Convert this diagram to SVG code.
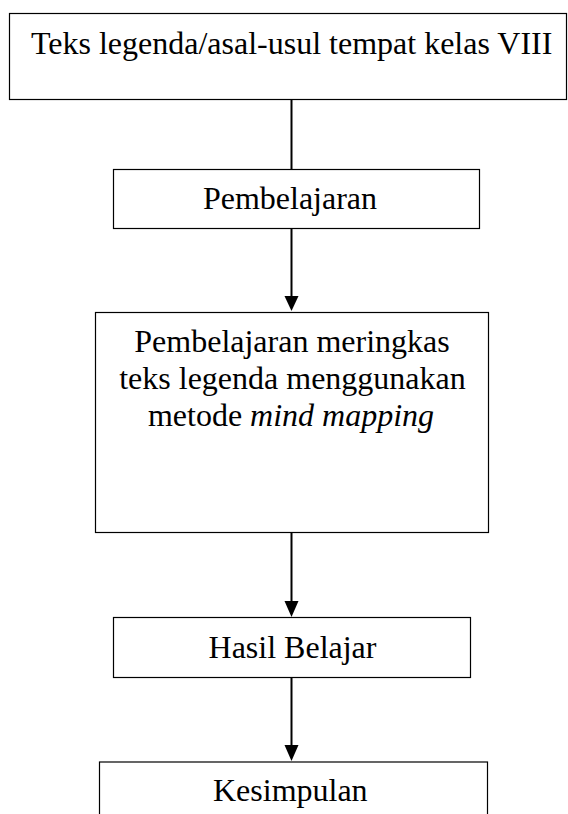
<svg xmlns="http://www.w3.org/2000/svg" width="568" height="814" viewBox="0 0 568 814">
<defs>
<style>
.box{fill:#fff;stroke:#000;stroke-width:1.2}
.t{font-family:"Liberation Serif","Times New Roman",serif;font-size:32px;fill:#000;text-anchor:middle}
.c{stroke:#000;stroke-width:2;fill:none}
.ah{fill:#000}
</style>
</defs>
<rect width="568" height="814" fill="#fff"/>
<g id="n1"><rect class="box" x="9.5" y="13.5" width="557" height="86"/><text class="t" x="291.7" y="53.5">Teks legenda/asal-usul tempat kelas VIII</text></g>
<g id="n2"><rect class="box" x="113.5" y="169.5" width="366" height="59"/><text class="t" x="290" y="209">Pembelajaran</text></g>
<g id="n3"><rect class="box" x="95.5" y="312.5" width="393" height="220"/>
<text class="t" x="292" y="352">Pembelajaran meringkas</text>
<text class="t" x="292.5" y="389">teks legenda menggunakan</text>
<text class="t" x="291" y="426">metode <tspan font-style="italic">mind mapping</tspan></text></g>
<g id="n4"><rect class="box" x="113.5" y="617.5" width="357" height="60"/><text class="t" x="292.5" y="658">Hasil Belajar</text></g>
<g id="n5"><rect class="box" x="99.5" y="762" width="388" height="70"/><text class="t" x="290.3" y="800.5">Kesimpulan</text></g>
<g id="connectors">
<line class="c" x1="291.5" y1="100" x2="291.5" y2="169"/>
<line class="c" x1="291.5" y1="229" x2="291.5" y2="297"/>
<polygon class="ah" points="284.5,296 298.5,296 291.5,311"/>
<line class="c" x1="291.5" y1="533" x2="291.5" y2="602"/>
<polygon class="ah" points="284.5,601 298.5,601 291.5,617"/>
<line class="c" x1="291.5" y1="678" x2="291.5" y2="746"/>
<polygon class="ah" points="284.5,745 298.5,745 291.5,761"/>
</g>
</svg>
